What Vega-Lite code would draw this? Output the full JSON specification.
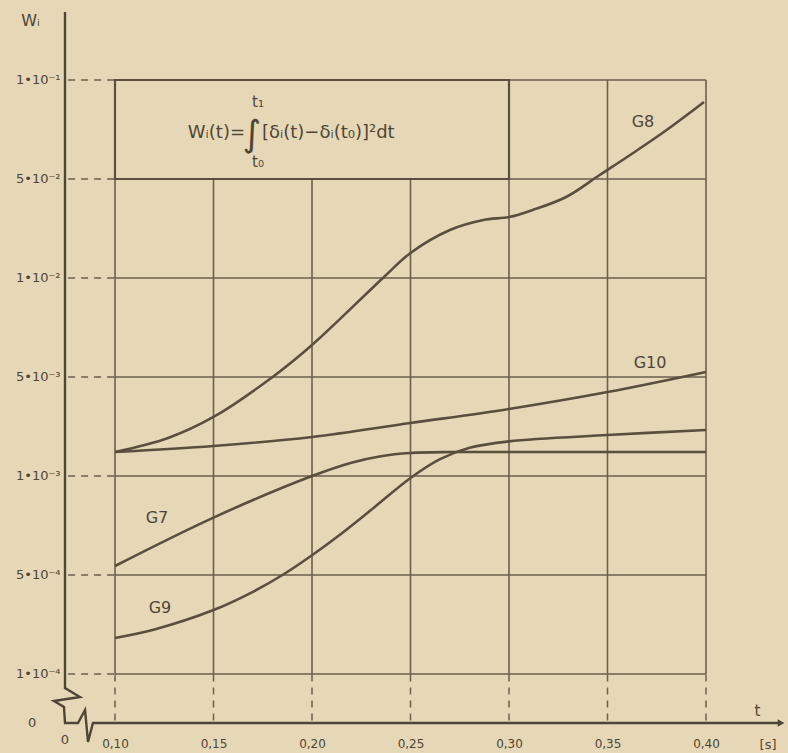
{
  "$schema": "https://vega.github.io/schema/vega-lite/v6.json",
  "width": 723,
  "height": 713,
  "autosize": {"type": "none"},
  "padding": {"left": 65, "top": 10, "right": 0, "bottom": 30},
  "background": "#e6d8b6",
  "config": {
    "view": {"stroke": null},
    "font": "DejaVu Sans",
    "text": {"font": "DejaVu Sans", "color": "#4f4536"}
  },
  "datasets": {
    "gridH": [
      {"L": 0}, {"L": 1}, {"L": 2}, {"L": 3}, {"L": 4}, {"L": 5}, {"L": 6}
    ],
    "gridV": [
      {"t": 0.10}, {"t": 0.15}, {"t": 0.20}, {"t": 0.25}, {"t": 0.30}, {"t": 0.35}, {"t": 0.40}
    ],
    "box": [
      {"t": 0.10, "t2": 0.30, "L": 5, "L2": 6}
    ],
    "curves": [
      {"s": "G8", "t": 0.100, "L": 2.242},
      {"s": "G8", "t": 0.127, "L": 2.384},
      {"s": "G8", "t": 0.150, "L": 2.596},
      {"s": "G8", "t": 0.180, "L": 3.000},
      {"s": "G8", "t": 0.200, "L": 3.323},
      {"s": "G8", "t": 0.236, "L": 4.000},
      {"s": "G8", "t": 0.250, "L": 4.253},
      {"s": "G8", "t": 0.270, "L": 4.485},
      {"s": "G8", "t": 0.287, "L": 4.586},
      {"s": "G8", "t": 0.300, "L": 4.616},
      {"s": "G8", "t": 0.312, "L": 4.687},
      {"s": "G8", "t": 0.329, "L": 4.818},
      {"s": "G8", "t": 0.346, "L": 5.040},
      {"s": "G8", "t": 0.363, "L": 5.263},
      {"s": "G8", "t": 0.380, "L": 5.495},
      {"s": "G8", "t": 0.399, "L": 5.778},
      {"s": "G10", "t": 0.10, "L": 2.242},
      {"s": "G10", "t": 0.15, "L": 2.303},
      {"s": "G10", "t": 0.20, "L": 2.394},
      {"s": "G10", "t": 0.25, "L": 2.535},
      {"s": "G10", "t": 0.30, "L": 2.677},
      {"s": "G10", "t": 0.35, "L": 2.848},
      {"s": "G10", "t": 0.40, "L": 3.051},
      {"s": "G7", "t": 0.100, "L": 1.091},
      {"s": "G7", "t": 0.150, "L": 1.580},
      {"s": "G7", "t": 0.200, "L": 2.000},
      {"s": "G7", "t": 0.220, "L": 2.135},
      {"s": "G7", "t": 0.235, "L": 2.200},
      {"s": "G7", "t": 0.250, "L": 2.232},
      {"s": "G7", "t": 0.270, "L": 2.242},
      {"s": "G7", "t": 0.300, "L": 2.242},
      {"s": "G7", "t": 0.350, "L": 2.242},
      {"s": "G7", "t": 0.400, "L": 2.242},
      {"s": "G9", "t": 0.100, "L": 0.364},
      {"s": "G9", "t": 0.120, "L": 0.450},
      {"s": "G9", "t": 0.150, "L": 0.646},
      {"s": "G9", "t": 0.170, "L": 0.830},
      {"s": "G9", "t": 0.185, "L": 1.000},
      {"s": "G9", "t": 0.200, "L": 1.200},
      {"s": "G9", "t": 0.215, "L": 1.420},
      {"s": "G9", "t": 0.232, "L": 1.690},
      {"s": "G9", "t": 0.250, "L": 1.980},
      {"s": "G9", "t": 0.265, "L": 2.170},
      {"s": "G9", "t": 0.280, "L": 2.285},
      {"s": "G9", "t": 0.300, "L": 2.350},
      {"s": "G9", "t": 0.350, "L": 2.414},
      {"s": "G9", "t": 0.400, "L": 2.465}
    ],
    "curveLabels": [
      {"s": "G8", "t": 0.368, "L": 5.576},
      {"s": "G10", "t": 0.3716, "L": 3.14},
      {"s": "G7", "t": 0.1213, "L": 1.576},
      {"s": "G9", "t": 0.1228, "L": 0.667}
    ],
    "axisLine": [
      {"o": 1, "t": 0.07462, "L": 6.687},
      {"o": 2, "t": 0.07462, "L": -0.141},
      {"o": 3, "t": 0.0822, "L": -0.232},
      {"o": 4, "t": 0.0690, "L": -0.273},
      {"o": 5, "t": 0.0741, "L": -0.333},
      {"o": 6, "t": 0.07462, "L": -0.495},
      {"o": 7, "t": 0.0812, "L": -0.495},
      {"o": 8, "t": 0.0848, "L": -0.364},
      {"o": 9, "t": 0.0863, "L": -0.687},
      {"o": 10, "t": 0.0888, "L": -0.495},
      {"o": 11, "t": 0.4381, "L": -0.495}
    ],
    "arrow": [{"t": 0.4381, "L": -0.495}],
    "extraText": [
      {"label": "0", "t": 0.0579, "L": -0.495},
      {"label": "0", "t": 0.0746, "L": -0.667},
      {"label": "[s]", "t": 0.4315, "L": -0.72}
    ]
  },
  "layer": [
    {
      "data": {"name": "gridH"},
      "mark": {"type": "rule", "color": "#6b5f4e", "strokeWidth": 1.6},
      "encoding": {
        "x": {"datum": 0.10, "type": "quantitative",
          "scale": {"domain": [0.07462, 0.44162], "nice": false, "zero": false},
          "axis": {
            "orient": "bottom", "domain": false, "ticks": false, "grid": false,
            "values": [0.10, 0.15, 0.20, 0.25, 0.30, 0.35, 0.40],
            "labelExpr": "replace(format(datum.value, '.2f'), '.', ',')",
            "labelFont": "DejaVu Sans", "labelFontSize": 12, "labelColor": "#4f4536",
            "labelPadding": 15,
            "title": "t", "titleFont": "DejaVu Sans", "titleFontSize": 15, "titleFontWeight": "normal",
            "titleColor": "#4f4536", "titleAngle": 0, "titleX": 692, "titleY": -13,
            "titleAlign": "center", "titleBaseline": "middle"
          }
        },
        "x2": {"datum": 0.40},
        "y": {"field": "L", "type": "quantitative",
          "scale": {"domain": [-0.495, 6.707], "nice": false, "zero": false},
          "axis": {
            "orient": "left", "domain": false, "ticks": false, "grid": false,
            "values": [0, 1, 2, 3, 4, 5, 6],
            "labelExpr": "['1•10⁻⁴','5•10⁻⁴','1•10⁻³','5•10⁻³','1•10⁻²','5•10⁻²','1•10⁻¹'][datum.value]",
            "labelFont": "DejaVu Sans", "labelFontSize": 13, "labelColor": "#4f4536",
            "labelPadding": 5,
            "title": "Wᵢ", "titleFont": "DejaVu Sans", "titleFontSize": 16, "titleFontWeight": "normal",
            "titleColor": "#4f4536", "titleAngle": 0, "titleX": -35, "titleY": 10,
            "titleAlign": "center", "titleBaseline": "middle"
          }
        }
      }
    },
    {
      "data": {"name": "gridH"},
      "mark": {"type": "rule", "color": "#6b5f4e", "strokeWidth": 1.5, "strokeDash": [7, 6]},
      "encoding": {
        "x": {"datum": 0.0762, "type": "quantitative"},
        "x2": {"datum": 0.10},
        "y": {"field": "L", "type": "quantitative"}
      }
    },
    {
      "data": {"name": "gridV"},
      "mark": {"type": "rule", "color": "#6b5f4e", "strokeWidth": 1.6},
      "encoding": {
        "x": {"field": "t", "type": "quantitative"},
        "y": {"datum": 0, "type": "quantitative"},
        "y2": {"datum": 6}
      }
    },
    {
      "data": {"name": "gridV"},
      "mark": {"type": "rule", "color": "#6b5f4e", "strokeWidth": 1.5, "strokeDash": [7, 6]},
      "encoding": {
        "x": {"field": "t", "type": "quantitative"},
        "y": {"datum": -0.47, "type": "quantitative"},
        "y2": {"datum": 0}
      }
    },
    {
      "data": {"name": "box"},
      "mark": {"type": "rect", "fill": "#e6d8b6", "stroke": "#5a4e3e", "strokeWidth": 2.2},
      "encoding": {
        "x": {"field": "t", "type": "quantitative"},
        "x2": {"field": "t2"},
        "y": {"field": "L", "type": "quantitative"},
        "y2": {"field": "L2"}
      }
    },
    {
      "data": {"values": [{"label": "Wᵢ(t)=", "t": 0.1660, "L": 5.465}]},
      "mark": {"type": "text", "fontSize": 18, "align": "right", "baseline": "middle"},
      "encoding": {
        "x": {"field": "t", "type": "quantitative"},
        "y": {"field": "L", "type": "quantitative"},
        "text": {"field": "label"}
      }
    },
    {
      "data": {"values": [{"label": "∫", "t": 0.1695, "L": 5.44}]},
      "mark": {"type": "text", "fontSize": 36, "align": "center", "baseline": "middle"},
      "encoding": {
        "x": {"field": "t", "type": "quantitative"},
        "y": {"field": "L", "type": "quantitative"},
        "text": {"field": "label"}
      }
    },
    {
      "data": {"values": [{"label": "[δᵢ(t)−δᵢ(t₀)]²dt", "t": 0.1746, "L": 5.465}]},
      "mark": {"type": "text", "fontSize": 18, "align": "left", "baseline": "middle"},
      "encoding": {
        "x": {"field": "t", "type": "quantitative"},
        "y": {"field": "L", "type": "quantitative"},
        "text": {"field": "label"}
      }
    },
    {
      "data": {"values": [{"label": "t₁", "t": 0.1726, "L": 5.778}, {"label": "t₀", "t": 0.1726, "L": 5.17}]},
      "mark": {"type": "text", "fontSize": 15, "align": "center", "baseline": "middle"},
      "encoding": {
        "x": {"field": "t", "type": "quantitative"},
        "y": {"field": "L", "type": "quantitative"},
        "text": {"field": "label"}
      }
    },
    {
      "data": {"name": "curves"},
      "mark": {"type": "line", "interpolate": "catmull-rom", "color": "#5a4e3e", "strokeWidth": 2.6},
      "encoding": {
        "x": {"field": "t", "type": "quantitative"},
        "y": {"field": "L", "type": "quantitative"},
        "detail": {"field": "s"}
      }
    },
    {
      "data": {"name": "curveLabels"},
      "mark": {"type": "text", "fontSize": 16, "align": "center", "baseline": "middle"},
      "encoding": {
        "x": {"field": "t", "type": "quantitative"},
        "y": {"field": "L", "type": "quantitative"},
        "text": {"field": "s"}
      }
    },
    {
      "data": {"name": "axisLine"},
      "mark": {"type": "line", "color": "#4f4536", "strokeWidth": 2.4, "interpolate": "linear"},
      "encoding": {
        "x": {"field": "t", "type": "quantitative"},
        "y": {"field": "L", "type": "quantitative"},
        "order": {"field": "o"}
      }
    },
    {
      "data": {"name": "arrow"},
      "mark": {"type": "point", "shape": "triangle-right", "filled": true, "size": 60, "color": "#4f4536", "opacity": 1},
      "encoding": {
        "x": {"field": "t", "type": "quantitative"},
        "y": {"field": "L", "type": "quantitative"}
      }
    },
    {
      "data": {"name": "extraText"},
      "mark": {"type": "text", "fontSize": 13, "align": "center", "baseline": "middle"},
      "encoding": {
        "x": {"field": "t", "type": "quantitative"},
        "y": {"field": "L", "type": "quantitative"},
        "text": {"field": "label"}
      }
    }
  ]
}
